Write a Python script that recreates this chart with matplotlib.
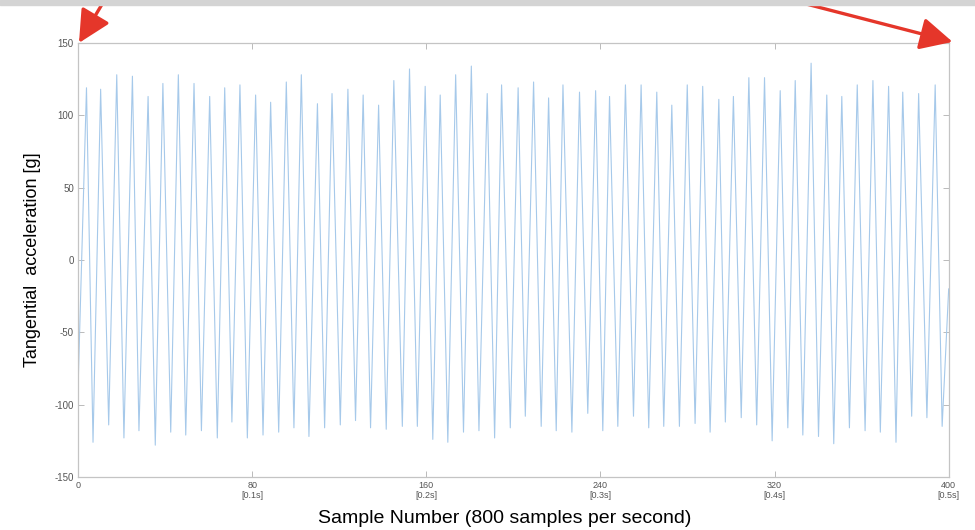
import numpy as np
import matplotlib
matplotlib.use('Agg')
import matplotlib.pyplot as plt
from matplotlib.patches import Rectangle, FancyArrowPatch

# peaks and troughs (sample number, g)
peak_x = [3.9, 10.4, 17.8, 25.0, 32.2, 39.0, 46.1, 53.3, 60.5, 67.4, 74.4, 81.6, 88.5, 95.7,
          102.6, 110.0, 116.7, 124.0, 131.0, 138.1, 145.1, 152.3, 159.5, 166.4, 173.5, 180.7,
          188.0, 194.6, 202.2, 209.3, 216.2, 222.8, 230.4, 237.8, 244.2, 251.5, 258.7, 265.9,
          272.8, 279.9, 287.0, 294.4, 301.1, 308.2, 315.4, 322.6, 329.5, 336.8, 344.0, 350.9,
          358.0, 365.2, 372.4, 378.9, 386.2, 393.8]
peak_y = [119, 118, 128, 127, 113, 122, 128, 122, 113, 119, 121, 114, 109, 123,
          128, 108, 115, 118, 114, 107, 124, 132, 120, 114, 128, 134,
          115, 121, 119, 123, 112, 121, 116, 117, 113, 121, 121, 116,
          107, 121, 120, 111, 113, 126, 126, 117, 124, 136, 114, 113,
          121, 124, 120, 116, 115, 121]
trough_x = [6.9, 14.1, 21.1, 28.0, 35.5, 42.6, 49.5, 56.7, 64.0, 70.7, 77.8, 85.0, 92.2, 99.2,
            106.1, 113.3, 120.5, 127.5, 134.4, 141.6, 149.0, 155.9, 163.0, 169.9, 177.1, 184.2,
            191.4, 198.6, 205.5, 212.8, 219.7, 226.9, 234.2, 241.1, 248.0, 255.2, 262.2, 269.1,
            276.3, 283.5, 290.4, 297.4, 304.7, 311.8, 318.9, 326.1, 333.0, 340.2, 347.2, 354.4,
            361.6, 368.6, 375.8, 383.0, 390.0, 397.0]
trough_y = [-126, -114, -123, -118, -128, -119, -121, -118, -123, -112, -123, -121, -119, -116,
            -122, -116, -114, -111, -116, -117, -115, -115, -124, -126, -119, -118,
            -123, -116, -108, -115, -118, -119, -106, -118, -115, -108, -116, -115,
            -115, -113, -119, -112, -109, -114, -125, -116, -121, -122, -127, -116,
            -118, -119, -126, -108, -109, -115]
start_pt = (0, -90)
end_pt = (400, -20)

x_ticks = [0, 80, 160, 240, 320, 400]
x_tick_labels = ['0', '80\n[0.1s]', '160\n[0.2s]', '240\n[0.3s]', '320\n[0.4s]', '400\n[0.5s]']
y_ticks = [-150, -100, -50, 0, 50, 100, 150]

# build the trace in time order
pts = [start_pt]
for px, py, tx, ty in zip(peak_x, peak_y, trough_x, trough_y):
    pts.append((px, py))
    pts.append((tx, ty))
pts.append(end_pt)
xs = [p[0] for p in pts]
ys = [p[1] for p in pts]

plt.rcParams['font.family'] = ['Liberation Sans', 'DejaVu Sans']

fig = plt.figure(figsize=(9.75, 5.3), dpi=100)
ax = fig.add_axes([0.080, 0.100, 0.893, 0.819])

ax.plot(xs, ys, color='#a6c9ea', lw=0.8)

ax.set_xlim(0, 400)
ax.set_ylim(-150, 150)
ax.set_xticks(x_ticks)
ax.set_xticklabels(x_tick_labels, fontsize=6.5, color='#555555', linespacing=1.1)
ax.set_yticks(y_ticks)
ax.set_yticklabels([str(v) for v in y_ticks], fontsize=7, color='#555555')
ax.tick_params(direction='in', length=4, width=0.6, color='#b0b0b0',
               top=True, right=True, pad=3)
for sp in ax.spines.values():
    sp.set_color('#c4c4c4')
    sp.set_linewidth(0.9)

ax.set_xlabel('Sample Number (800 samples per second)', fontsize=14)
ax.xaxis.set_label_coords(0.49, -0.075)
ax.set_ylabel('Tangential  acceleration [g]', fontsize=13, labelpad=10)

# red arrows on the screenshot
arrow_kw = dict(arrowstyle='-|>,head_length=1.1,head_width=0.55', color='#e5362a',
                lw=2.4, mutation_scale=18, shrinkA=0, shrinkB=0)
fig.add_artist(FancyArrowPatch((0.1105, 1.01), (0.081, 0.919),
                               transform=fig.transFigure, **arrow_kw))
fig.add_artist(FancyArrowPatch((0.790, 1.01), (0.977, 0.921),
                               transform=fig.transFigure, **arrow_kw))

# grey strip along the top edge
fig.add_artist(Rectangle((0, 0.990), 1, 0.01, transform=fig.transFigure,
                         color='#d4d4d4', zorder=10))

fig.savefig('out.png', dpi=100)
